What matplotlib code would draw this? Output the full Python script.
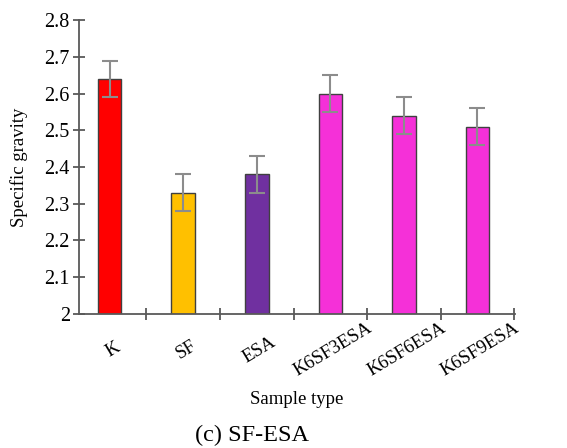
import numpy as np
import matplotlib
matplotlib.use("Agg")
import matplotlib.pyplot as plt

samples = ["K", "SF", "ESA", "K6SF3ESA", "K6SF6ESA", "K6SF9ESA"]
gravity = [2.64, 2.33, 2.38, 2.60, 2.54, 2.51]
errors = [0.05, 0.05, 0.05, 0.05, 0.05, 0.05]
colors = ["#FF0000", "#FFC000", "#7030A0", "#F530D8", "#F530D8", "#F530D8"]
y_ticks = [2, 2.1, 2.2, 2.3, 2.4, 2.5, 2.6, 2.7, 2.8]
y_tick_labels = ["2", "2.1", "2.2", "2.3", "2.4", "2.5", "2.6", "2.7", "2.8"]

plt.rcParams["font.family"] = ["Liberation Serif", "DejaVu Serif"]
axis_col = "#595959"

fig = plt.figure(figsize=(5.67, 4.48), dpi=100)
ax = fig.add_axes([0.139, 0.30, 0.769, 0.655])

x = np.arange(len(samples))
ax.bar(x, np.array(gravity) - 2, bottom=2, width=0.32, color=colors,
       edgecolor="#404040", linewidth=1.0, zorder=2)
ax.errorbar(x, gravity, yerr=errors, fmt="none", ecolor="#8c8c8c",
            elinewidth=1.5, capsize=6, capthick=1.5, zorder=3)

ax.set_xlim(-0.42, 5.51)
ax.set_ylim(2, 2.8)

ax.spines["top"].set_visible(False)
ax.spines["right"].set_visible(False)
for s in ["left", "bottom"]:
    ax.spines[s].set_color(axis_col)
    ax.spines[s].set_linewidth(1.3)

ax.set_yticks(y_ticks)
ax.set_yticklabels(y_tick_labels, fontsize=14.5)
ax.tick_params(axis="y", direction="inout", length=9, width=1.3,
               color=axis_col, pad=2)

ax.set_xticks(x + 0.04)
ax.set_xticklabels(samples, fontsize=13.5, rotation=31, ha="center", va="center")
ax.tick_params(axis="x", which="major", length=0, pad=26)
ax.set_xticks(np.arange(0.5, 6, 1), minor=True)
ax.tick_params(axis="x", which="minor", direction="inout", length=9,
               width=1.3, color=axis_col)

ax.set_ylabel("Specific gravity", fontsize=13.5, labelpad=12)
ax.set_xlabel("Sample type", fontsize=13.5, labelpad=8)

fig.text(0.445, 0.027, "(c) SF-ESA", fontsize=17.5, ha="center", va="center")

fig.savefig("out.png", dpi=100)
